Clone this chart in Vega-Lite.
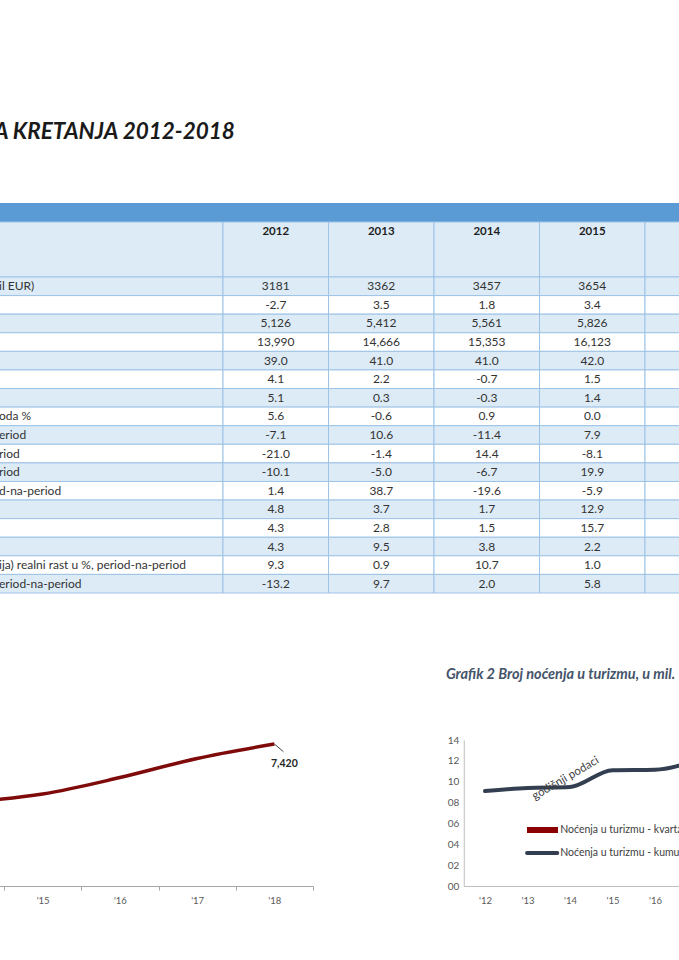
{
  "$schema": "https://vega.github.io/schema/vega-lite/v6.json",
  "width": 679,
  "height": 810,
  "autosize": {"type": "none"},
  "padding": {"top": 150, "left": 0, "right": 0, "bottom": 0},
  "background": "#ffffff",
  "title": {"text": "A KRETANJA 2012-2018", "anchor": "start", "frame": "group", "font": "Lato", "fontSize": 22.5, "fontWeight": "bold", "fontStyle": "italic", "color": "#1a1a1a", "baseline": "alphabetic", "offset": -11, "dx": -6},
  "config": {"view": {"stroke": null}, "axis": {"grid": false, "labelFont": "Lato", "titleFont": "Lato"}, "text": {"font": "Lato"}},
  "datasets": {
    "tbl": [
      {"r": 1, "label": "il EUR)", "2012": "3181", "2013": "3362", "2014": "3457", "2015": "3654", "2016": ""},
      {"r": 2, "label": "", "2012": "-2.7", "2013": "3.5", "2014": "1.8", "2015": "3.4", "2016": ""},
      {"r": 3, "label": "", "2012": "5,126", "2013": "5,412", "2014": "5,561", "2015": "5,826", "2016": ""},
      {"r": 4, "label": "", "2012": "13,990", "2013": "14,666", "2014": "15,353", "2015": "16,123", "2016": ""},
      {"r": 5, "label": "", "2012": "39.0", "2013": "41.0", "2014": "41.0", "2015": "42.0", "2016": ""},
      {"r": 6, "label": "", "2012": "4.1", "2013": "2.2", "2014": "-0.7", "2015": "1.5", "2016": ""},
      {"r": 7, "label": "", "2012": "5.1", "2013": "0.3", "2014": "-0.3", "2015": "1.4", "2016": ""},
      {"r": 8, "label": "oda %", "2012": "5.6", "2013": "-0.6", "2014": "0.9", "2015": "0.0", "2016": ""},
      {"r": 9, "label": "eriod", "2012": "-7.1", "2013": "10.6", "2014": "-11.4", "2015": "7.9", "2016": ""},
      {"r": 10, "label": "riod", "2012": "-21.0", "2013": "-1.4", "2014": "14.4", "2015": "-8.1", "2016": ""},
      {"r": 11, "label": "riod", "2012": "-10.1", "2013": "-5.0", "2014": "-6.7", "2015": "19.9", "2016": ""},
      {"r": 12, "label": "d-na-period", "2012": "1.4", "2013": "38.7", "2014": "-19.6", "2015": "-5.9", "2016": ""},
      {"r": 13, "label": "", "2012": "4.8", "2013": "3.7", "2014": "1.7", "2015": "12.9", "2016": ""},
      {"r": 14, "label": "", "2012": "4.3", "2013": "2.8", "2014": "1.5", "2015": "15.7", "2016": ""},
      {"r": 15, "label": "", "2012": "4.3", "2013": "9.5", "2014": "3.8", "2015": "2.2", "2016": ""},
      {"r": 16, "label": "ija) realni rast u %, period-na-period", "2012": "9.3", "2013": "0.9", "2014": "10.7", "2015": "1.0", "2016": ""},
      {"r": 17, "label": "eriod-na-period", "2012": "-13.2", "2013": "9.7", "2014": "2.0", "2015": "5.8", "2016": ""}
    ]
  },
  "resolve": {"scale": {"x": "independent", "y": "independent"}, "axis": {"x": "independent", "y": "independent"}},
  "layer": [
    {
      "data": {"values": [{}]},
      "mark": {"type": "rect", "fill": "#5B9BD5"},
      "encoding": {
        "x": {"datum": "B", "type": "nominal", "scale": {"type": "band", "domain": ["B"], "range": [-10, 690], "paddingInner": 0, "paddingOuter": 0}, "axis": null},
        "y": {"datum": "B", "type": "nominal", "scale": {"type": "band", "domain": ["B"], "range": [53, 72], "paddingInner": 0, "paddingOuter": 0}, "axis": null}
      }
    },
    {
      "data": {"values": [{}]},
      "mark": {"type": "rect", "fill": "#DDEBF7", "stroke": "#9DC3E6", "strokeWidth": 1},
      "encoding": {
        "x": {"datum": "L", "type": "nominal", "scale": {"type": "band", "domain": ["L"], "range": [-10, 223], "paddingInner": 0, "paddingOuter": 0}, "axis": null},
        "y": {"datum": "H", "type": "nominal", "scale": {"type": "band", "domain": ["H"], "range": [72, 127], "paddingInner": 0, "paddingOuter": 0}, "axis": null}
      }
    },
    {
      "data": {"values": [{"yr": "2012"}, {"yr": "2013"}, {"yr": "2014"}, {"yr": "2015"}, {"yr": "2016"}]},
      "layer": [
        {
          "mark": {"type": "rect", "fill": "#DDEBF7", "stroke": "#9DC3E6", "strokeWidth": 1},
          "encoding": {
            "x": {"field": "yr", "type": "nominal", "scale": {"type": "band", "domain": ["2012", "2013", "2014", "2015", "2016"], "range": [223, 750.5], "paddingInner": 0, "paddingOuter": 0}, "axis": null},
            "y": {"datum": "H", "type": "nominal", "scale": {"type": "band", "domain": ["H"], "range": [72, 127], "paddingInner": 0, "paddingOuter": 0}, "axis": null}
          }
        },
        {
          "mark": {"type": "text", "fontSize": 11.5, "fontWeight": "bold", "color": "#1f1f1f", "baseline": "top", "dy": 4},
          "encoding": {
            "x": {"field": "yr", "type": "nominal", "axis": null},
            "y": {"datum": "H", "type": "nominal", "bandPosition": 0, "axis": null},
            "text": {"field": "yr"}
          }
        }
      ]
    },
    {
      "data": {"name": "tbl"},
      "layer": [
        {
          "mark": {"type": "rect", "stroke": "#9DC3E6", "strokeWidth": 1},
          "encoding": {
            "x": {"datum": "L", "type": "nominal", "scale": {"type": "band", "domain": ["L"], "range": [-10, 223], "paddingInner": 0, "paddingOuter": 0}, "axis": null},
            "y": {"field": "r", "type": "ordinal", "scale": {"type": "band", "domain": [1, 2, 3, 4, 5, 6, 7, 8, 9, 10, 11, 12, 13, 14, 15, 16, 17], "range": [127, 443], "paddingInner": 0, "paddingOuter": 0}, "axis": null},
            "fill": {"condition": {"test": "datum.r % 2 == 1", "value": "#DDEBF7"}, "value": "#FFFFFF"}
          }
        },
        {
          "mark": {"type": "text", "fontSize": 12, "color": "#333333", "align": "left", "dx": 9},
          "encoding": {
            "x": {"datum": "L", "type": "nominal", "bandPosition": 0, "axis": null},
            "y": {"field": "r", "type": "ordinal", "axis": null},
            "text": {"field": "label"}
          }
        }
      ]
    },
    {
      "data": {"name": "tbl"},
      "transform": [{"fold": ["2012", "2013", "2014", "2015", "2016"], "as": ["yr", "val"]}],
      "layer": [
        {
          "mark": {"type": "rect", "stroke": "#9DC3E6", "strokeWidth": 1},
          "encoding": {
            "x": {"field": "yr", "type": "nominal", "scale": {"type": "band", "domain": ["2012", "2013", "2014", "2015", "2016"], "range": [223, 750.5], "paddingInner": 0, "paddingOuter": 0}, "axis": null},
            "y": {"field": "r", "type": "ordinal", "scale": {"type": "band", "domain": [1, 2, 3, 4, 5, 6, 7, 8, 9, 10, 11, 12, 13, 14, 15, 16, 17], "range": [127, 443], "paddingInner": 0, "paddingOuter": 0}, "axis": null},
            "fill": {"condition": {"test": "datum.r % 2 == 1", "value": "#DDEBF7"}, "value": "#FFFFFF"}
          }
        },
        {
          "mark": {"type": "text", "fontSize": 12, "color": "#333333"},
          "encoding": {
            "x": {"field": "yr", "type": "nominal", "axis": null},
            "y": {"field": "r", "type": "ordinal", "axis": null},
            "text": {"field": "val"}
          }
        }
      ]
    },
    {
      "data": {"values": [{"yr": 14, "v": 5561}, {"yr": 15, "v": 5826}, {"yr": 16, "v": 6350}, {"yr": 17, "v": 6960}, {"yr": 18, "v": 7420}]},
      "encoding": {
        "x": {"field": "yr", "type": "quantitative", "scale": {"domain": [14.4, 18.5], "range": [-3.7, 313], "nice": false, "zero": false},
          "axis": {"orient": "bottom", "offset": -74, "values": [14.5, 15.5, 16.5, 17.5, 18.5], "labelExpr": "datum.value < 18 ? \"'\" + (floor(datum.value) + 1) : ''", "labelOffset": 38.6, "tickSize": 4, "domainColor": "#A6A6A6", "tickColor": "#A6A6A6", "labelColor": "#595959", "labelFontSize": 9.5, "labelPadding": 5, "title": null, "grid": false, "labelFlush": false, "labelOverlap": false, "labelBound": false}},
        "y": {"field": "v", "type": "quantitative", "scale": {"domain": [3000, 8000], "range": [732.7, 575.8], "nice": false, "zero": false}, "axis": null}
      },
      "layer": [
        {"mark": {"type": "line", "color": "#7F0A0A", "strokeWidth": 3.5, "interpolate": "monotone"}},
        {"transform": [{"filter": "datum.yr == 18"}], "mark": {"type": "point", "shape": "M0,0L1,0.85", "size": 324, "filled": false, "stroke": "#404040", "strokeWidth": 1, "opacity": 1}},
        {"transform": [{"filter": "datum.yr == 18"}], "mark": {"type": "text", "fontSize": 10.5, "fontWeight": "bold", "color": "#262626", "dx": 10, "dy": 20}, "encoding": {"text": {"field": "v", "type": "quantitative", "format": ",d"}}}
      ]
    },
    {
      "layer": [
        {
          "data": {"values": [
            {"yr": 2012, "v": 9.1},
            {"yr": 2013, "v": 9.4},
            {"yr": 2014, "v": 9.5},
            {"yr": 2015, "v": 11.1},
            {"yr": 2016, "v": 11.15},
            {"yr": 2017, "v": 12.1}
          ]},
          "mark": {"type": "line", "strokeWidth": 4, "interpolate": "monotone", "strokeCap": "round", "color": "#333F50"},
          "encoding": {
            "x": {"field": "yr", "type": "quantitative", "scale": {"domain": [2011.5, 2018.5], "range": [463.75, 761.25], "nice": false, "zero": false},
              "axis": {"orient": "bottom", "offset": -74, "values": [2012, 2013, 2014, 2015, 2016, 2017, 2018], "labelExpr": "\"'\" + (datum.value - 2000)", "ticks": false, "domainColor": "#BFBFBF", "labelColor": "#595959", "labelFontSize": 9.5, "labelPadding": 9, "title": null, "grid": false, "labelFlush": false, "labelOverlap": false}},
            "y": {"field": "v", "type": "quantitative", "scale": {"domain": [0, 14], "range": [736, 590], "nice": false, "zero": false},
              "axis": {"orient": "left", "offset": -463.75, "values": [0, 2, 4, 6, 8, 10, 12, 14], "format": "02d", "ticks": false, "domainColor": "#BFBFBF", "labelColor": "#595959", "labelFontSize": 10, "labelPadding": 5, "title": null, "grid": false, "labelFlush": false, "labelOverlap": false}}
          }
        },
        {
          "data": {"values": [{}]},
          "mark": {"type": "rect", "fill": "#8B0000"},
          "encoding": {
            "x": {"datum": 2012.988, "type": "quantitative"},
            "x2": {"datum": 2013.718},
            "y": {"datum": 5.66, "type": "quantitative"},
            "y2": {"datum": 5.08}
          }
        },
        {
          "data": {"values": [{}]},
          "mark": {"type": "rule", "color": "#333F50", "strokeWidth": 4, "strokeCap": "round"},
          "encoding": {
            "x": {"datum": 2012.99, "type": "quantitative"},
            "x2": {"datum": 2013.70},
            "y": {"datum": 3.16, "type": "quantitative"}
          }
        },
        {
          "data": {"values": [{"t": "Noćenja u turizmu -  kvartalni podaci", "k": 5.37}, {"t": "Noćenja u turizmu - kumulativni podaci", "k": 3.16}]},
          "mark": {"type": "text", "fontSize": 10.5, "color": "#404040", "align": "left", "baseline": "middle"},
          "encoding": {
            "x": {"datum": 2013.77, "type": "quantitative"},
            "y": {"field": "k", "type": "quantitative"},
            "text": {"field": "t"}
          }
        },
        {
          "data": {"values": [{}]},
          "mark": {"type": "text", "text": "godišnji podaci", "fontSize": 11.5, "color": "#404040", "angle": 330, "align": "center", "baseline": "middle"},
          "encoding": {
            "x": {"datum": 2013.9, "type": "quantitative"},
            "y": {"datum": 10.3, "type": "quantitative"}
          }
        },
        {
          "data": {"values": [{}]},
          "mark": {"type": "text", "text": "Grafik 2 Broj noćenja u turizmu, u mil.", "fontSize": 14.5, "fontWeight": "bold", "fontStyle": "italic", "color": "#44546A", "align": "left", "baseline": "middle"},
          "encoding": {
            "x": {"datum": 2011.08, "type": "quantitative"},
            "y": {"datum": 20.23, "type": "quantitative"}
          }
        }
      ]
    }
  ]
}
